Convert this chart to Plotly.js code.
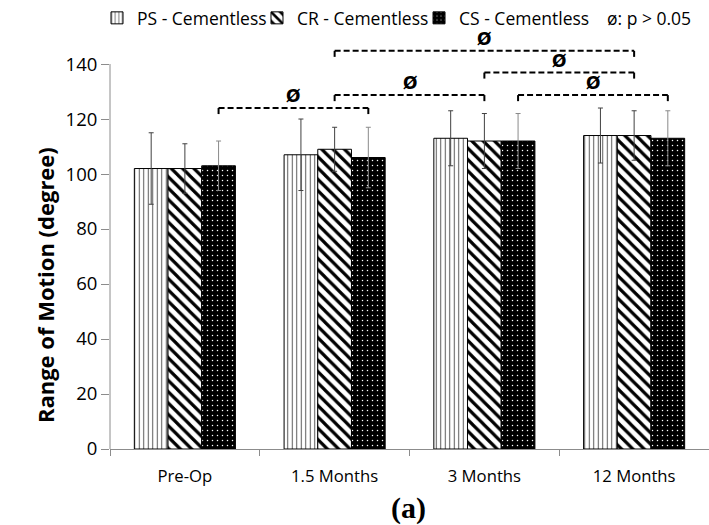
<!DOCTYPE html>
<html>
<head>
<meta charset="utf-8">
<script src="https://cdn.plot.ly/plotly-3.0.1.min.js"></script>
<style>html,body{margin:0;padding:0;background:#fff;}#chart{width:709px;height:525px;}</style>
</head>
<body>
<div id="chart"></div>
<script>
// ---- data ----
const categories = ['Pre-Op', '1.5 Months', '3 Months', '12 Months'];
const seriesNames = ['PS - Cementless', 'CR - Cementless', 'CS - Cementless'];
const psMean = [102, 107, 113, 114];
const psSD   = [13, 13, 10, 10];
const crMean = [102, 109, 112, 114];
const crSD   = [9, 8, 10, 9];
const csMean = [103, 106, 112, 113];
const csSD   = [9, 11, 10, 10];
const yTicks = [0, 20, 40, 60, 80, 100, 120, 140];

// significance brackets (p > 0.05): from category/series to category/series at a level
const bracketFromCat    = ['Pre-Op', '1.5 Months', '3 Months', '3 Months', '1.5 Months'];
const bracketFromSeries = [2, 1, 2, 1, 1];
const bracketToCat      = ['1.5 Months', '3 Months', '12 Months', '12 Months', '12 Months'];
const bracketToSeries   = [2, 1, 2, 1, 1];
const bracketLevel      = [124, 128.7, 128.7, 136.9, 144.8];

// ---- styles ----
const bargap = 0.325;
const axisGray = '#8c8c8c';
const font = 'Open Sans, sans-serif';

const means = [psMean, crMean, csMean];
const sds = [psSD, crSD, csSD];
const patterns = [
  {shape: '|', fgcolor: '#555', bgcolor: '#fff', size: 4.5, solidity: 0.22},
  {shape: '\\', fgcolor: '#000', bgcolor: '#fff', size: 8, solidity: 0.4},
  {shape: '.', fgcolor: '#fff', bgcolor: '#000', size: 5, solidity: 0.07}
];
const errColors = ['#404040', '#404040', '#8a8a8a'];
const legendIds = ['legend', 'legend2', 'legend3'];
const legendX = [-0.0217, 0.2454, 0.5159];

const traces = seriesNames.map((name, i) => ({
  type: 'bar',
  name: name,
  legend: legendIds[i],
  x: categories,
  y: means[i],
  marker: {color: patterns[i].bgcolor, pattern: patterns[i], line: {color: '#000', width: 1}},
  error_y: {type: 'data', array: sds[i], visible: true, thickness: 1, width: 2.5, color: errColors[i]}
}));

const barW = (1 - bargap) / seriesNames.length;
const xpos = (cat, s) => categories.indexOf(cat) + (s - (seriesNames.length - 1) / 2) * barW;

const shapes = [];
const annotations = [];
const tickDrop = 2.2;
bracketLevel.forEach((lvl, k) => {
  const x0 = xpos(bracketFromCat[k], bracketFromSeries[k]);
  const x1 = xpos(bracketToCat[k], bracketToSeries[k]);
  const ln = {color: '#000', width: 2, dash: '6px,3px'};
  shapes.push({type: 'line', xref: 'x', yref: 'y', x0: x0, x1: x1, y0: lvl, y1: lvl, line: ln});
  shapes.push({type: 'line', xref: 'x', yref: 'y', x0: x0, x1: x0, y0: lvl, y1: lvl - tickDrop, line: {color: '#000', width: 2}});
  shapes.push({type: 'line', xref: 'x', yref: 'y', x0: x1, x1: x1, y0: lvl, y1: lvl - tickDrop, line: {color: '#000', width: 2}});
  annotations.push({xref: 'x', yref: 'y', x: (x0 + x1) / 2, y: lvl, yshift: 12, text: '<b>Ø</b>',
    showarrow: false, font: {family: 'DejaVu Sans, sans-serif', size: 17, color: '#000'}, xanchor: 'center', yanchor: 'middle'});
});
// y axis line from 0 to 140
shapes.push({type: 'line', xref: 'paper', yref: 'y', x0: 0, x1: 0, y0: 0, y1: yTicks[yTicks.length - 1], line: {color: axisGray, width: 1}});

annotations.push({xref: 'paper', yref: 'paper', x: -0.108, y: 0.39, textangle: -90, showarrow: false,
  text: '<b>Range of Motion (degree)</b>', font: {family: font, size: 22, color: '#000'}, xanchor: 'center', yanchor: 'middle'});
annotations.push({xref: 'paper', yref: 'paper', x: 0.4975, y: -0.14, showarrow: false,
  text: '<b>(a)</b>', font: {family: 'Liberation Serif, serif', size: 30, color: '#000'}, xanchor: 'center', yanchor: 'middle'});
annotations.push({xref: 'paper', yref: 'paper', x: 0.826, y: 1.0238, showarrow: false, xanchor: 'left', yanchor: 'middle',
  text: 'ø: p > 0.05', font: {family: font, size: 17.5, color: '#000'}});

const legendBase = {orientation: 'h', xanchor: 'left', y: 1.0238, yanchor: 'middle',
  font: {family: font, size: 17.5, color: '#000'}, bgcolor: 'rgba(0,0,0,0)', borderwidth: 0};

const layout = {
  width: 709, height: 525,
  margin: {l: 110, r: 0, t: 28, b: 76, autoexpand: false},
  paper_bgcolor: '#fff', plot_bgcolor: '#fff',
  barmode: 'group', bargap: bargap, bargroupgap: 0,
  showlegend: true,
  legend: Object.assign({}, legendBase, {x: legendX[0]}),
  legend2: Object.assign({}, legendBase, {x: legendX[1]}),
  legend3: Object.assign({}, legendBase, {x: legendX[2]}),
  xaxis: {type: 'category', showline: true, linecolor: axisGray, linewidth: 1, ticks: 'outside', tickson: 'boundaries',
    ticklen: 6, tickcolor: axisGray, showgrid: false, zeroline: false, ticklabelstandoff: 12,
    tickfont: {family: font, size: 16.7, color: '#000'}},
  yaxis: {range: [0, 153.1], tickvals: yTicks, ticks: 'outside', ticklen: 8, tickcolor: axisGray,
    showline: false, showgrid: false, zeroline: false, tickfont: {family: font, size: 18.5, color: '#000'}},
  shapes: shapes,
  annotations: annotations
};

Plotly.newPlot('chart', traces, layout, {staticPlot: true});
</script>
</body>
</html>
